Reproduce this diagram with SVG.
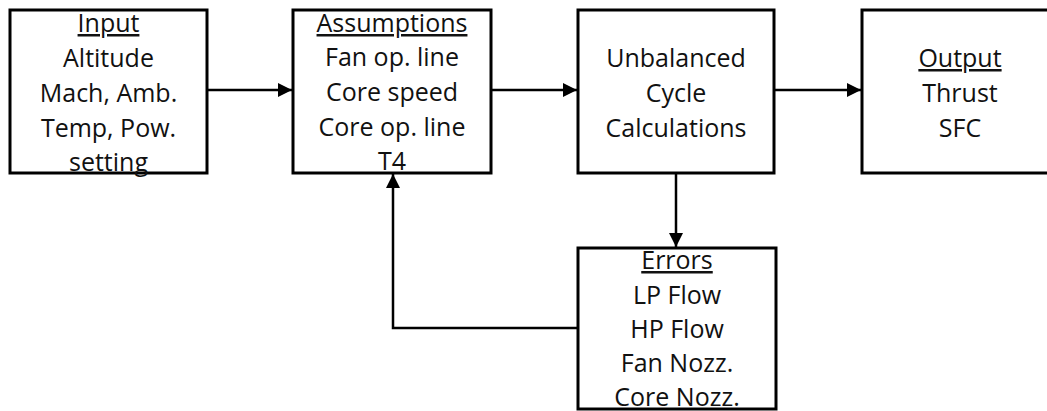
<svg xmlns="http://www.w3.org/2000/svg" width="1047" height="411" viewBox="0 0 1047 411">
  <defs>
    <style>
      .box { fill: #ffffff; stroke: #000000; stroke-width: 3; }
      .wire { fill: none; stroke: #000000; stroke-width: 2.5; }
      text { font-family: "Open Sans", "Liberation Sans", sans-serif; font-size: 25px; fill: #111111; text-anchor: middle; }
      .head { text-decoration: underline; }
    </style>
    <marker id="arrow" viewBox="0 0 14 14" refX="14" refY="7" markerWidth="14" markerHeight="14" markerUnits="userSpaceOnUse" orient="auto">
      <path d="M0,0 L14,7 L0,14 Z" fill="#000000"/>
    </marker>
  </defs>

  <rect width="1047" height="411" fill="#ffffff"/>

  <!-- connectors -->
  <g id="connectors">
    <line class="wire" x1="207" y1="90" x2="292" y2="90" marker-end="url(#arrow)"/>
    <line class="wire" x1="491" y1="90" x2="577" y2="90" marker-end="url(#arrow)"/>
    <line class="wire" x1="774" y1="90" x2="861" y2="90" marker-end="url(#arrow)"/>
    <line class="wire" x1="676" y1="173" x2="676" y2="247" marker-end="url(#arrow)"/>
    <polyline class="wire" points="578,328 393,328 393,174" marker-end="url(#arrow)"/>
  </g>

  <g id="input">
    <rect class="box" x="10" y="10" width="197" height="163"/>
    <text x="108.5" y="32" class="head">Input</text>
    <text x="108.5" y="67">Altitude</text>
    <text x="108.5" y="102">Mach, Amb.</text>
    <text x="108.5" y="137">Temp, Pow.</text>
    <text x="108.5" y="171">setting</text>
  </g>

  <g id="assumptions">
    <rect class="box" x="293" y="10" width="198" height="163"/>
    <text x="392" y="32" class="head">Assumptions</text>
    <text x="392" y="66">Fan op. line</text>
    <text x="392" y="101">Core speed</text>
    <text x="392" y="136">Core op. line</text>
    <text x="392" y="170">T4</text>
  </g>

  <g id="unbalanced">
    <rect class="box" x="578" y="10" width="196" height="163"/>
    <text x="676" y="67">Unbalanced</text>
    <text x="676" y="102">Cycle</text>
    <text x="676" y="137">Calculations</text>
  </g>

  <g id="output">
    <rect class="box" x="862" y="10" width="196" height="163"/>
    <text x="960" y="67" class="head">Output</text>
    <text x="960" y="102">Thrust</text>
    <text x="960" y="137">SFC</text>
  </g>

  <g id="errors">
    <rect class="box" x="578" y="248" width="198" height="161"/>
    <text x="677" y="269" class="head">Errors</text>
    <text x="677" y="304">LP Flow</text>
    <text x="677" y="338">HP Flow</text>
    <text x="677" y="372">Fan Nozz.</text>
    <text x="677" y="406">Core Nozz.</text>
  </g>
</svg>
